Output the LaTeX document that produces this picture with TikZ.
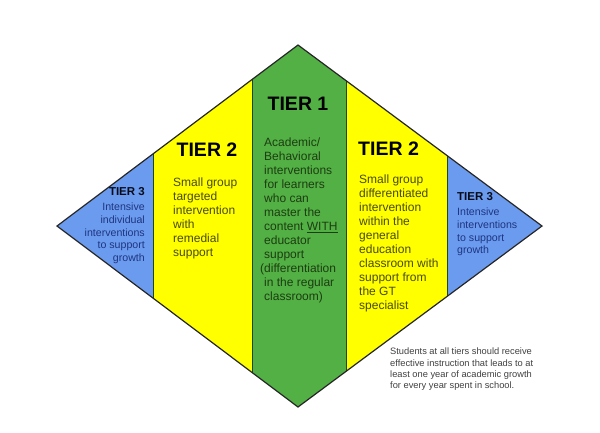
\documentclass[tikz,border=0pt]{standalone}
\usepackage{fontspec}
\setmainfont{Liberation Sans}
\definecolor{tierblue}{HTML}{6B9BEF}
\definecolor{tieryellow}{HTML}{FFFF00}
\definecolor{tiergreen}{HTML}{52B044}
\definecolor{navytext}{HTML}{1F3580}
\definecolor{olivetext}{HTML}{4A4A10}
\definecolor{greentext}{HTML}{1D3D12}
\definecolor{notetext}{HTML}{404040}

\tikzset{
    edge/.style={draw=black!85, line width=1.2pt, line join=miter},
    divider/.style={draw=black!60!tiergreen, line width=0.7pt},
    tierhead/.style={inner sep=0pt, font=\fontsize{19.5}{22}\selectfont\bfseries},
    smallhead/.style={inner sep=0pt, font=\fontsize{11.5}{12.7}\selectfont\bfseries, text=black!80!navytext},
    tierbody/.style={inner sep=0pt, align=left, anchor=north west, font=\fontsize{12}{14}\selectfont},
    smallbody/.style={inner sep=0pt, font=\fontsize{10.6}{12.7}\selectfont, text=navytext},
    note/.style={inner sep=0pt, align=left, anchor=north west, font=\fontsize{9.3}{11.3}\selectfont, text=notetext}
}

\begin{document}
\begin{tikzpicture}[x=1pt,y=-1pt]
    \useasboundingbox (0,0) rectangle (600,432);
    \path coordinate (T) at (298,45)
        coordinate (B) at (298,407)
        coordinate (L) at (57,226)
        coordinate (R) at (542,226);
    % coloured bands inside the diamond
    \begin{scope}
        \clip (T) -- (R) -- (B) -- (L) -- cycle;
        \fill[tierblue] (0,0) rectangle (153,432);
        \fill[tieryellow] (153,0) rectangle (252,432);
        \fill[tiergreen] (252,0) rectangle (346,432);
        \fill[tieryellow] (346,0) rectangle (447,432);
        \fill[tierblue] (447,0) rectangle (600,432);
        \foreach \x in {153,252,346,447}
            \draw[divider] (\x,0) -- (\x,432);
    \end{scope}
    \draw[edge] (T) -- (R) -- (B) -- (L) -- cycle;

    % tier 1
    \node[tierhead, anchor=north] (t1head) at (298,97) {TIER 1};
    \node[tierbody, text=greentext] (t1body) at (264,138) {Academic/\\Behavioral\\interventions\\for learners\\who can\\master the\\content \underline{WITH}\\educator\\support\\\llap{(}differentiation\\in the regular\\classroom)};

    % tier 2, left and right
    \node[tierhead, anchor=north] (t2lhead) at (207,143) {TIER 2};
    \node[tierbody, text=olivetext] (t2lbody) at (173,178) {Small group\\targeted\\intervention\\with\\remedial\\support};
    \node[tierhead, anchor=north west] (t2rhead) at (358,142) {TIER 2};
    \node[tierbody, text=olivetext] (t2rbody) at (359,175) {Small group\\differentiated\\intervention\\within the\\general\\education\\classroom with\\support from\\the GT\\specialist};

    % tier 3, left and right
    \node[smallhead, anchor=north east] (t3lhead) at (145,187) {TIER 3};
    \node[smallbody, align=right, anchor=north east] (t3lbody) at (145,203) {Intensive\\individual\\interventions\\to support\\growth};
    \node[smallhead, anchor=north west] (t3rhead) at (457,192) {TIER 3};
    \node[smallbody, align=left, anchor=north west] (t3rbody) at (457,208) {Intensive\\interventions\\to support\\growth};

    % note
    \node[note] (remark) at (390,348) {Students at all tiers should receive\\effective instruction that leads to at\\least one year of academic growth\\for every year spent in school.};
\end{tikzpicture}
\end{document}
